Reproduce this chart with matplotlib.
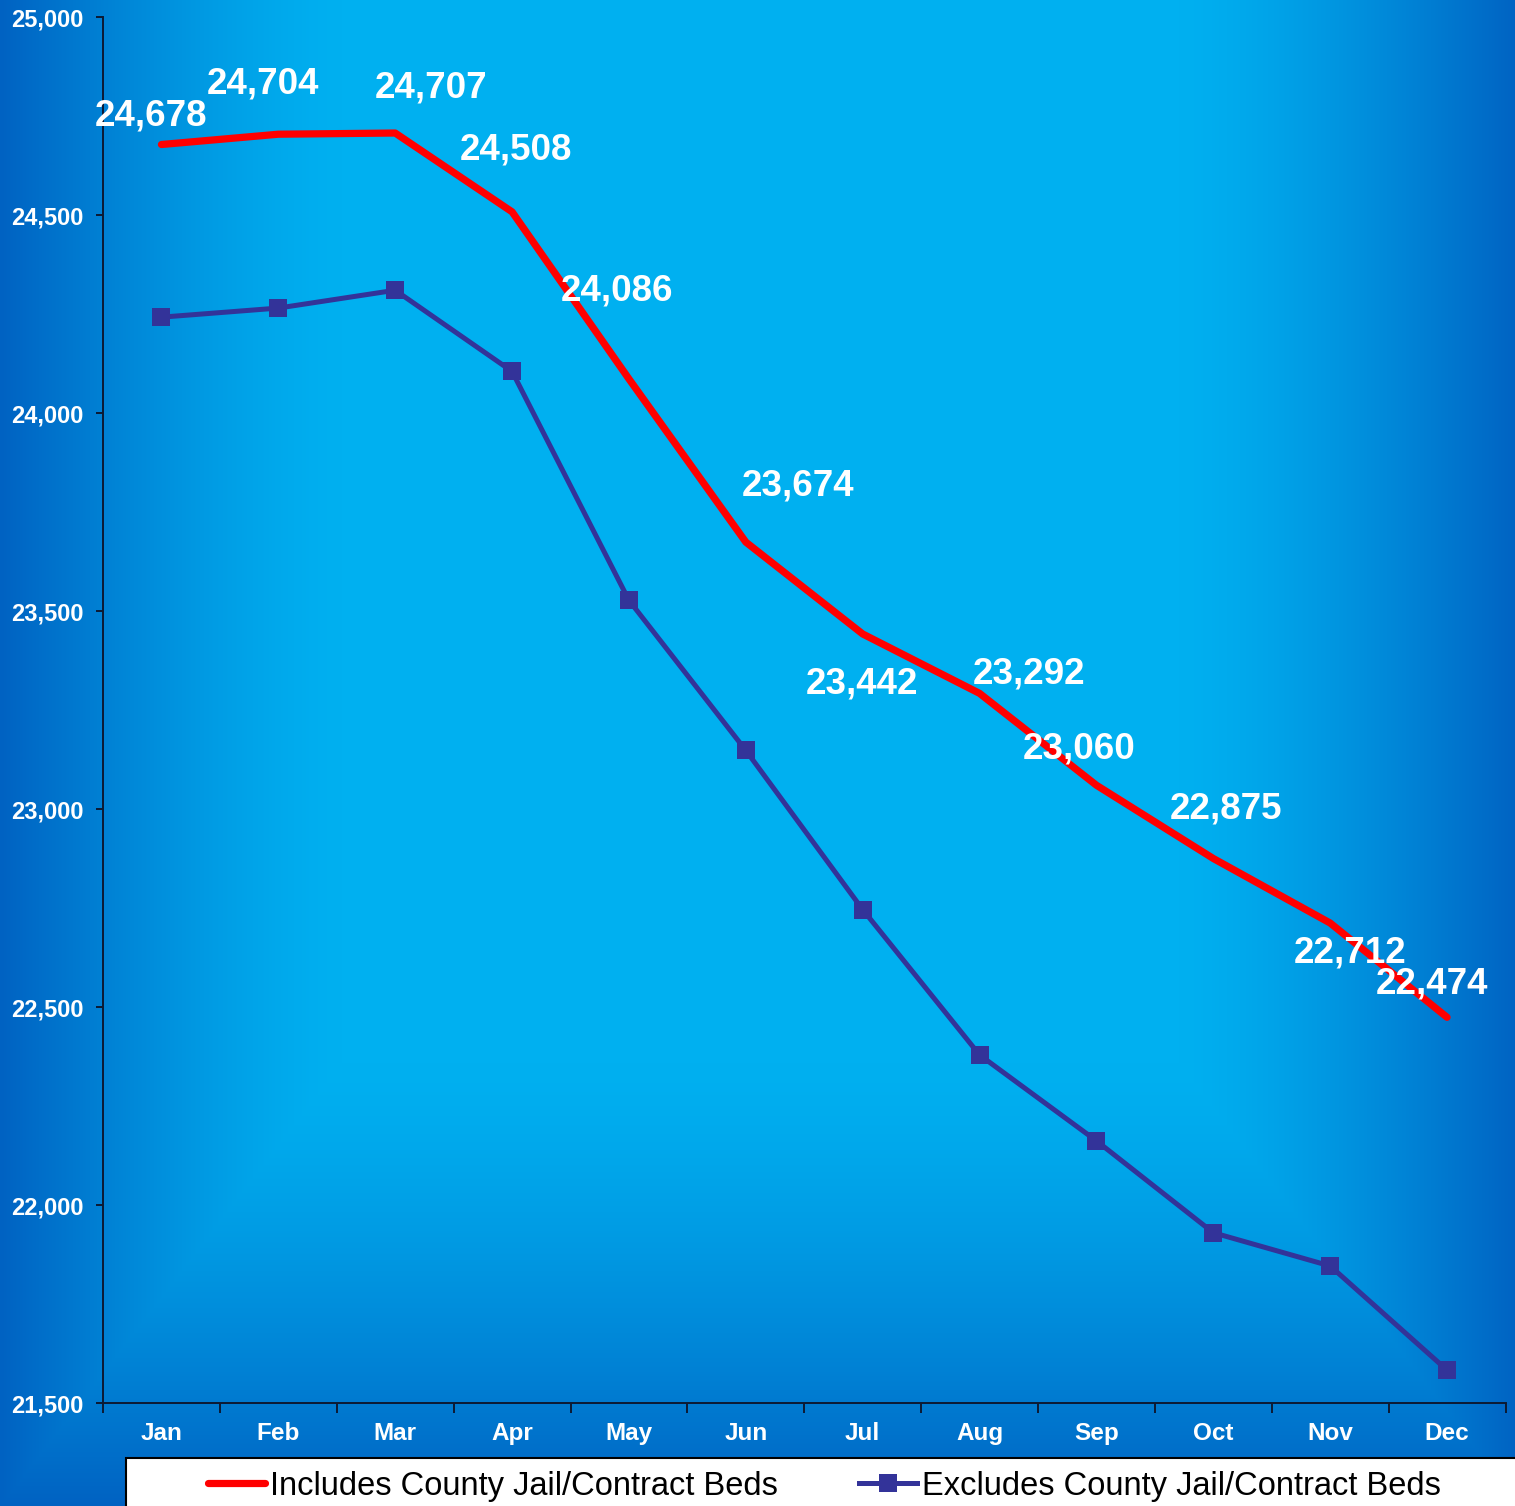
import numpy as np
import matplotlib
matplotlib.use("Agg")
import matplotlib.pyplot as plt
from matplotlib.patches import Rectangle
from matplotlib.lines import Line2D
from matplotlib.ticker import FuncFormatter

plt.rcParams['font.family'] = ['Liberation Sans', 'DejaVu Sans']

# ---- data ----
months = ["Jan", "Feb", "Mar", "Apr", "May", "Jun", "Jul", "Aug", "Sep", "Oct", "Nov", "Dec"]
includes = [24678, 24704, 24707, 24508, 24086, 23674, 23442, 23292, 23060, 22875, 22712, 22474]
excludes = [24242, 24265, 24310, 24105, 23527, 23148, 22746, 22379, 22162, 21930, 21846, 21583]
yticks = [21500, 22000, 22500, 23000, 23500, 24000, 24500, 25000]
series_names = ["Includes County Jail/Contract Beds", "Excludes County Jail/Contract Beds"]

# label offsets in pixels (dx, dy) for includes labels
label_offsets = [(-10, 29), (-15, 50), (36, 45), (4, 62), (-12, 88), (52, 56),
                 (-1, -50), (49, 19), (-17, 36), (13, 50), (20, -30), (-15, 33)]

W, H = 1515, 1506
fig = plt.figure(figsize=(W / 100, H / 100), dpi=100)

# ---- background gradient ----
bg = fig.add_axes([0, 0, 1, 1], zorder=-10)
yy, xx = np.mgrid[0:H, 0:W].astype(float)
cx, cy = 760.0, 520.0
hw, hh = 760.0, 986.0
t = np.maximum(np.abs(xx - cx) / hw, np.abs(yy - cy) / hh)
f = np.clip((t - 0.55) / 0.45, 0, 1) ** 1.4
light = np.array([0, 176, 240]) / 255.0
dark = np.array([0, 98, 194]) / 255.0
img = light[None, None, :] * (1 - f[..., None]) + dark[None, None, :] * f[..., None]
bg.imshow(img, aspect='auto', interpolation='bilinear', extent=[0, W, H, 0])
bg.set_xlim(0, W)
bg.set_ylim(H, 0)
bg.axis('off')

# ---- main axes ----
left, right, top, bottom = 103, 1505.5, 17, 1403
ax = fig.add_axes([left / W, (H - bottom) / H, (right - left) / W, (bottom - top) / H])
ax.set_facecolor('none')
x = np.arange(len(months))

ax.plot(x, includes, color='#FF0000', lw=5.2, solid_capstyle='round', zorder=3, clip_on=False)
ax.plot(x, excludes, color='#333399', lw=3.6, marker='s', markersize=13.5, markeredgewidth=0,
        zorder=3, clip_on=False)

for xi, v, (dx, dy) in zip(x, includes, label_offsets):
    ax.annotate(f"{v:,}", (xi, v), xytext=(dx, dy), textcoords='offset pixels',
                ha='center', va='center', color='white', fontsize=26.5, fontweight='bold', zorder=5)

ax.set_xlim(-0.5, len(months) - 0.5)
ax.set_ylim(yticks[0], yticks[-1])
ax.set_yticks(yticks)
ax.yaxis.set_major_formatter(FuncFormatter(lambda v, p: f"{int(v):,}"))
ax.set_xticks(np.arange(-0.5, len(months), 1.0))
ax.set_xticklabels([])
ax.set_xticks(x, minor=True)
ax.set_xticklabels(months, minor=True)

spine_col = '#0d1a33'
for s in ['top', 'right']:
    ax.spines[s].set_visible(False)
for s in ['left', 'bottom']:
    ax.spines[s].set_color(spine_col)
    ax.spines[s].set_linewidth(1.4)
ax.tick_params(axis='y', which='major', direction='out', length=5, width=1.4, color=spine_col,
               labelcolor='white', labelsize=17, pad=9)
ax.tick_params(axis='x', which='major', direction='out', length=7, width=1.4, color=spine_col)
ax.tick_params(axis='x', which='minor', length=0, labelcolor='white', labelsize=17.5, pad=14)
for lab in ax.get_yticklabels() + ax.get_xticklabels(minor=True):
    lab.set_fontweight('bold')

# ---- legend box ----
fig.patches.append(Rectangle((126 / W, -0.01), (W + 10 - 126) / W, (H - 1458) / H + 0.01,
                             transform=fig.transFigure, facecolor='white', edgecolor='black',
                             linewidth=1.5, zorder=1))
handles = [Line2D([], [], color='#FF0000', lw=5.2, solid_capstyle='round'),
           Line2D([], [], color='#333399', lw=3.6, marker='s', markersize=13.5, markeredgewidth=0)]
leg = fig.legend(handles, series_names, loc='center left', bbox_to_anchor=(208 / W, (H - 1486) / H),
                 ncol=2, frameon=False, fontsize=23.5, handlelength=1.75, handletextpad=0.15,
                 columnspacing=2.5, borderpad=0, borderaxespad=0)
leg.set_zorder(2)

fig.savefig('out.png', dpi=100)
